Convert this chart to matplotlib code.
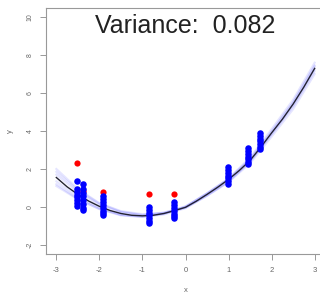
import matplotlib
matplotlib.use("Agg")
import matplotlib.pyplot as plt

# fitted curve (x step 0.25)
curve_x = [-3, -2.75, -2.5, -2.25, -2, -1.75, -1.5, -1.25, -1, -0.75, -0.5, -0.25,
           0, 0.25, 0.5, 0.75, 1, 1.25, 1.5, 1.75, 2, 2.25, 2.5, 2.75, 3]
curve_y = [1.55, 1.06, 0.66, 0.31, 0.03, -0.19, -0.345, -0.44, -0.47, -0.44, -0.345, -0.19,
           -0.02, 0.3, 0.66, 1.04, 1.45, 1.92, 2.45, 3.15, 3.9, 4.62, 5.42, 6.32, 7.3]

# faint resampled curves around the fit (x step 0.5)
band_x = [-3, -2.5, -2, -1.5, -1, -0.5, 0, 0.5, 1, 1.5, 2, 2.5, 3]
band_curves = [
    [1.85, 0.88, 0.18, -0.25, -0.42, -0.33, -0.05, 0.58, 1.3, 2.3, 3.7, 5.15, 7.0],
    [1.2, 0.42, -0.12, -0.45, -0.53, -0.37, 0.0, 0.72, 1.5, 2.6, 4.1, 5.65, 7.6],
    [1.7, 0.78, 0.12, -0.28, -0.44, -0.3, 0.03, 0.72, 1.48, 2.52, 3.98, 5.5, 7.45],
    [1.35, 0.52, -0.06, -0.42, -0.52, -0.4, -0.07, 0.6, 1.33, 2.38, 3.82, 5.3, 7.15],
    [2.0, 0.95, 0.2, -0.22, -0.38, -0.3, -0.03, 0.62, 1.35, 2.4, 3.85, 5.35, 7.25],
    [1.1, 0.4, -0.1, -0.42, -0.5, -0.35, 0.02, 0.7, 1.45, 2.5, 3.95, 5.5, 7.4],
]

# blue point clusters
cluster_x = [-2.51, -2.37, -1.92, -0.84, -0.26, 0.98, 1.44, 1.72]
cluster_y = [
    [1.37, 0.95, 0.8, 0.65, 0.5, 0.35, 0.2, 0.05],
    [1.2, 0.95, 0.75, 0.55, 0.35, 0.15, -0.05, -0.15],
    [0.58, 0.4, 0.25, 0.1, -0.05, -0.2, -0.32, -0.42],
    [0.0, -0.15, -0.3, -0.45, -0.6, -0.72, -0.84],
    [0.26, 0.1, -0.05, -0.2, -0.35, -0.48, -0.58],
    [2.1, 1.95, 1.8, 1.65, 1.5, 1.35, 1.2],
    [3.1, 2.95, 2.8, 2.65, 2.5, 2.38, 2.26],
    [3.9, 3.75, 3.6, 3.45, 3.3, 3.15, 3.05],
]

# red points
red_x = [-2.51, -2.37, -1.92, -0.84, -0.26]
red_y = [2.3, 0.85, 0.78, 0.68, 0.68]

variance = "0.082"
xticks = [-3, -2, -1, 0, 1, 2, 3]
yticks = [-2, 0, 2, 4, 6, 8, 10]

plt.rcParams['font.family'] = ['Liberation Sans', 'DejaVu Sans']

fig = plt.figure(figsize=(3.2, 2.94), dpi=100)
ax = fig.add_axes([46/320, 40/294, 279/320, 246/294])

for c in band_curves:
    ax.plot(band_x, c, color="blue", alpha=0.1, lw=1.5)
ax.plot(curve_x, curve_y, color="#222233", lw=1.0)

ax.scatter(red_x, red_y, color="red", s=20, zorder=3, linewidths=0)
for cx, cy in zip(cluster_x, cluster_y):
    ax.scatter([cx]*len(cy), cy, color="blue", s=22, zorder=4, linewidths=0)

ax.text(0, 9.55, "Variance:  " + variance, ha="center", va="center",
        fontsize=18, color="#222222")

ax.set_xlim(-3.24, 3.24)
ax.set_ylim(-2.48, 10.48)
ax.set_xticks(xticks)
ax.set_yticks(yticks)
ax.set_xticklabels([str(t) for t in xticks], fontsize=5.5, color="#666666")
ax.set_yticklabels([str(t) for t in yticks], fontsize=5, color="#666666",
                   rotation=90, va="center")
ax.tick_params(direction="out", length=4, width=0.6, color="#888888", pad=5)
for s in ax.spines.values():
    s.set_color("#999999")
    s.set_linewidth(0.8)
ax.set_xlabel("x", fontsize=5.5, color="#666666", labelpad=10)
ax.set_ylabel("y", fontsize=5.5, color="#666666", labelpad=9)

fig.savefig("out.png", dpi=100)
